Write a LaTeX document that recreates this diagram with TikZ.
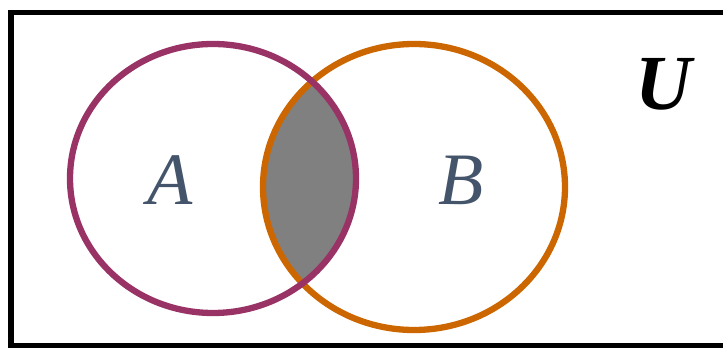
\documentclass[tikz,border=0pt]{standalone}
\usepackage{fontspec}
\setmainfont{Liberation Serif}
\usepackage{tikz}
\usetikzlibrary{positioning}

\definecolor{setApurple}{HTML}{993366}
\definecolor{setBorange}{HTML}{CC6600}
\definecolor{labelslate}{HTML}{44546A}

\begin{document}
\begin{tikzpicture}[
        x=1pt, y=1pt,
        setline/.style={line width=6.3pt},
        setlabel/.style={font=\fontsize{74}{74}\selectfont\itshape, text=labelslate, inner sep=0pt},
        universe/.style={draw=black, line width=5.5pt}
    ]
    \useasboundingbox (0,0) rectangle (723,348);
    \clip (0,0) rectangle (723,348);

    % Universe
    \draw[universe] (11,2.5) rectangle (740,335.5);

    % Intersection
    \begin{scope}
        \clip (213,169.5) ellipse [x radius=143, y radius=134.5];
        \fill[gray] (414,161) ellipse [x radius=151, y radius=143];
    \end{scope}

    % Sets
    \draw[setline, setBorange] (414,161) ellipse [x radius=151, y radius=143];
    \draw[setline, setApurple] (213,169.5) ellipse [x radius=143, y radius=134.5];

    % Labels
    \node[setlabel] (labelA) at (170,168) {A};
    \node[setlabel] (labelB) at (461,168) {B};
    \node[font=\fontsize{78}{78}\selectfont\bfseries\itshape, inner sep=0pt] (labelU) at (664,264) {U};

\end{tikzpicture}
\end{document}
